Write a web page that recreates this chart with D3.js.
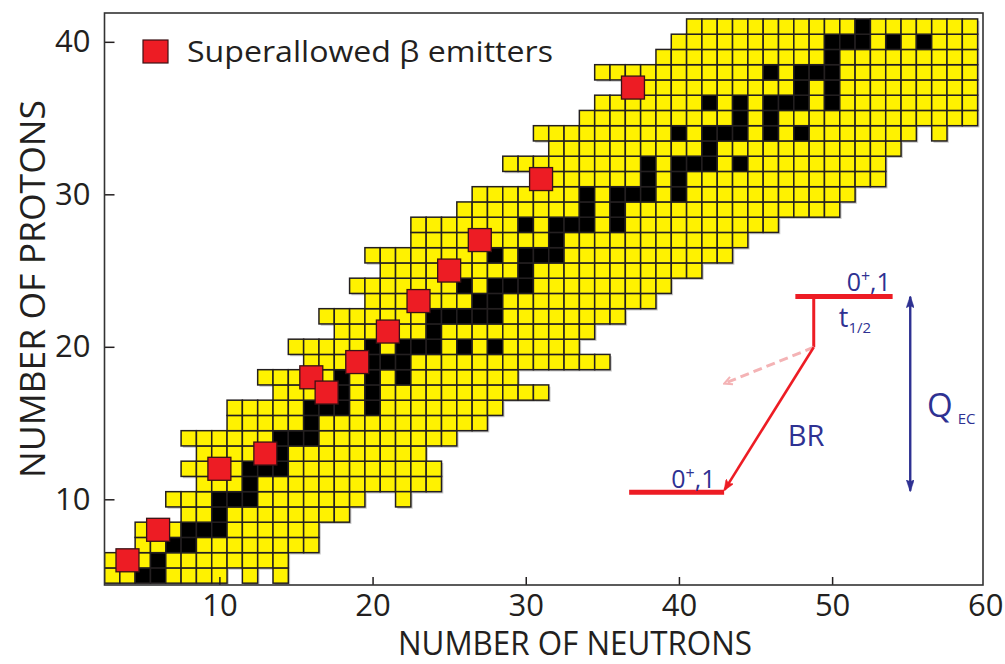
<!DOCTYPE html>
<html>
<head>
<meta charset="utf-8">
<script src="https://cdn.jsdelivr.net/npm/d3@7"></script>
<style>
body { margin: 0; background: #fff; }
svg { display: block; font-family: "Open Sans", sans-serif; }
</style>
</head>
<body>
<svg id="chart"></svg>
<script>
// one row of the chart per proton number
const protons = [5, 6, 7, 8, 9, 10, 11, 12, 13, 14, 15, 16, 17, 18, 19, 20, 21, 22, 23, 24, 25,
                 26, 27, 28, 29, 30, 31, 32, 33, 34, 35, 36, 37, 38, 39, 40, 41];
// first and last neutron number of each row
const nFirst = [3, 3, 5, 5, 8, 7, 9, 8, 9, 8, 11, 11, 14, 13, 16, 15, 18, 17, 20, 19, 21,
                20, 23, 23, 26, 27, 31, 29, 32, 31, 34, 35, 37, 35, 39, 40, 41];
const nLast = [14, 14, 16, 16, 18, 19, 24, 24, 23, 25, 27, 28, 31, 29, 35, 33, 34, 36, 38, 39, 41,
               43, 44, 46, 50, 51, 53, 53, 54, 55, 59, 59, 59, 59, 59, 59, 59];
// [N, Z] gaps inside a row, and lone cells past its end
const holes = [[11, 5], [13, 5]];
const loners = [[22, 10], [57, 34]];
// stable nuclei (black), neutron numbers per row
const stable = [[5, 6], [6], [7, 8], [8, 9, 10], [10], [10, 11, 12], [12], [12, 13, 14], [14],
  [14, 15, 16], [16], [16, 17, 18, 20], [18, 20], [18, 20, 22], [20, 21, 22], [20, 22, 23, 24, 26, 28],
  [24], [24, 25, 26, 27, 28], [27, 28], [26, 28, 29, 30], [30], [28, 30, 31, 32], [32],
  [30, 32, 33, 34, 36], [34, 36], [34, 36, 37, 38, 40], [38, 40], [38, 40, 41, 42, 44], [42],
  [40, 42, 43, 44, 46, 48], [44, 46], [42, 44, 46, 47, 48, 50], [48, 50], [46, 48, 49, 50], [50],
  [50, 51, 52, 54, 56], [52]];
// superallowed emitters [N, Z]
const superallowed = [[4, 6], [6, 8], [10, 12], [13, 13], [16, 18], [17, 17], [19, 19],
                      [21, 21], [23, 23], [25, 25], [27, 27], [31, 31], [37, 37]];
const xTicks = [10, 20, 30, 40, 50, 60];
const yTicks = [10, 20, 30, 40];
const legendLabel = "Superallowed \u03b2 emitters";

const width = 1005, height = 664;
const box = {left: 104.5, right: 983, top: 13, bottom: 585};
const yellow = "#fff200", red = "#ed1c24", blue = "#2e3192", ink = "#231f20";

const svg = d3.select("#chart").attr("width", width).attr("height", height);
svg.append("rect").attr("width", width).attr("height", height).attr("fill", "#fff");

const x = d3.scaleLinear().domain([2.5, 59.85]).range([box.left, box.right]);
const y = d3.scaleLinear().domain([4.38, 41.89]).range([box.bottom, box.top]);

// expand the rows into cells
let cells = [];
protons.forEach((z, i) => {
  for (let n = nFirst[i]; n <= nLast[i]; n++) {
    if (holes.some(h => h[0] === n && h[1] === z)) continue;
    cells.push({n: n, z: z, stable: stable[i].includes(n)});
  }
});
loners.forEach(d => cells.push({n: d[0], z: d[1], stable: false}));

svg.append("clipPath").attr("id", "plotclip")
  .append("rect")
  .attr("x", box.left).attr("y", box.top)
  .attr("width", box.right - box.left).attr("height", box.bottom - box.top);

const plot = svg.append("g").attr("clip-path", "url(#plotclip)");

function cellX(d) { return x(d.n - 0.5); }
function cellY(d) { return y(d.z + 0.5); }
const cw = x(1) - x(0), ch = y(0) - y(1);

// soft drop shadow under the cells
plot.append("g").selectAll("rect")
  .data(cells)
  .enter()
  .append("rect")
  .attr("x", d => cellX(d) + 1.8)
  .attr("y", d => cellY(d) + 1.8)
  .attr("width", cw)
  .attr("height", ch)
  .attr("fill", "#9a9a9a")
  .attr("opacity", 0.55);

plot.append("g").selectAll("rect")
  .data(cells)
  .enter()
  .append("rect")
  .attr("x", cellX)
  .attr("y", cellY)
  .attr("width", cw)
  .attr("height", ch)
  .attr("fill", d => d.stable ? "#000" : yellow)
  .attr("stroke", ink)
  .attr("stroke-width", 1.5);

// superallowed emitters, drawn larger than a cell
const rs = cw * 1.5;
plot.append("g").selectAll("rect")
  .data(superallowed)
  .enter()
  .append("rect")
  .attr("x", d => x(d[0]) - rs / 2)
  .attr("y", d => y(d[1]) - rs / 2)
  .attr("width", rs)
  .attr("height", rs)
  .attr("fill", red)
  .attr("stroke", "#3b1214")
  .attr("stroke-width", 1.3);

// axes
const xAxis = d3.axisBottom(x).tickValues(xTicks).tickSizeInner(-8).tickSizeOuter(0).tickPadding(9);
const yAxis = d3.axisLeft(y).tickValues(yTicks).tickSizeInner(-10).tickSizeOuter(0).tickPadding(14);

const gx = svg.append("g").attr("transform", "translate(0," + box.bottom + ")").call(xAxis);
const gy = svg.append("g").attr("transform", "translate(" + box.left + ",0)").call(yAxis);
[gx, gy].forEach(g => {
  g.select(".domain").remove();
  g.selectAll(".tick line").attr("stroke", ink).attr("stroke-width", 1.5);
  g.selectAll(".tick text").attr("fill", ink).style("font-size", "31px")
    .style("font-family", "'Open Sans', sans-serif");
});
gx.selectAll(".tick line").filter(d => x(d) > box.right - 1).remove();

svg.append("rect")
  .attr("x", box.left).attr("y", box.top)
  .attr("width", box.right - box.left).attr("height", box.bottom - box.top)
  .attr("fill", "none").attr("stroke", "#333").attr("stroke-width", 1.6);

// titles keep their letter height and are squeezed to the reference width
svg.append("text")
  .attr("x", 575).attr("y", 655)
  .attr("text-anchor", "middle").attr("fill", ink)
  .attr("textLength", 354).attr("lengthAdjust", "spacingAndGlyphs")
  .style("font-size", "32px")
  .text("NUMBER OF NEUTRONS");

svg.append("text")
  .attr("transform", "translate(45,289) rotate(-90)")
  .attr("text-anchor", "middle").attr("fill", ink)
  .attr("textLength", 378).attr("lengthAdjust", "spacingAndGlyphs")
  .style("font-size", "34px")
  .text("NUMBER OF PROTONS");

// legend
svg.append("rect")
  .attr("x", 143).attr("y", 40).attr("width", 25).attr("height", 23)
  .attr("fill", red).attr("stroke", "#3b1214").attr("stroke-width", 1.2);
svg.append("text")
  .attr("x", 187).attr("y", 62).attr("fill", ink)
  .attr("textLength", 366).attr("lengthAdjust", "spacingAndGlyphs")
  .style("font-size", "29px")
  .text(legendLabel);

// decay scheme inset, placed in chart units
const scheme = {
  top: {n0: 47.6, n1: 53.95, z: 23.3},
  bottom: {n0: 36.75, n1: 42.95, z: 10.47},
  branch: [48.8, 19.97],
  tip: [42.98, 10.62],
  dashTip: [42.98, 17.6],
  qN: 55.1, qTop: 23.28, qBottom: 10.56
};

const defs = svg.append("defs");
function marker(id, color, path, w, h, rx, ry, filled) {
  defs.append("marker").attr("id", id)
    .attr("viewBox", "0 0 " + w + " " + h)
    .attr("markerWidth", w).attr("markerHeight", h)
    .attr("refX", rx).attr("refY", ry)
    .attr("orient", "auto-start-reverse")
    .attr("markerUnits", "userSpaceOnUse")
    .append("path").attr("d", path)
    .attr("fill", filled ? color : "none")
    .attr("stroke", color).attr("stroke-width", filled ? 0.5 : 2);
}
marker("arRed", red, "M0,0 L11,4.5 L0,9 L2.5,4.5 Z", 11, 9, 10, 4.5, true);
marker("arPink", "#f4b3b5", "M1,1 L9,5 L1,9", 10, 10, 8.5, 5, false);
marker("arBlue", blue, "M0,0 L12,4 L0,8 L2,4 Z", 12, 8, 11, 4, true);

const ins = svg.append("g");
ins.append("line")
  .attr("x1", x(scheme.top.n0)).attr("x2", x(scheme.top.n1))
  .attr("y1", y(scheme.top.z)).attr("y2", y(scheme.top.z))
  .attr("stroke", red).attr("stroke-width", 5);
ins.append("line")
  .attr("x1", x(scheme.bottom.n0)).attr("x2", x(scheme.bottom.n1))
  .attr("y1", y(scheme.bottom.z)).attr("y2", y(scheme.bottom.z))
  .attr("stroke", red).attr("stroke-width", 5);
ins.append("line")
  .attr("x1", x(scheme.branch[0])).attr("x2", x(scheme.branch[0]))
  .attr("y1", y(scheme.top.z)).attr("y2", y(scheme.branch[1]))
  .attr("stroke", red).attr("stroke-width", 3);
ins.append("line")
  .attr("x1", x(scheme.branch[0])).attr("y1", y(scheme.branch[1]))
  .attr("x2", x(scheme.dashTip[0])).attr("y2", y(scheme.dashTip[1]))
  .attr("stroke", "#f4b3b5").attr("stroke-width", 3)
  .attr("stroke-dasharray", "9,5")
  .attr("marker-end", "url(#arPink)");
ins.append("line")
  .attr("x1", x(scheme.branch[0])).attr("y1", y(scheme.branch[1]))
  .attr("x2", x(scheme.tip[0])).attr("y2", y(scheme.tip[1]))
  .attr("stroke", red).attr("stroke-width", 2.6)
  .attr("marker-end", "url(#arRed)");
ins.append("line")
  .attr("x1", x(scheme.qN)).attr("x2", x(scheme.qN))
  .attr("y1", y(scheme.qTop)).attr("y2", y(scheme.qBottom))
  .attr("stroke", blue).attr("stroke-width", 2.4)
  .attr("marker-start", "url(#arBlue)")
  .attr("marker-end", "url(#arBlue)");

function spin(n, z) {
  const t = ins.append("text").attr("x", x(n)).attr("y", y(z))
    .attr("fill", blue).style("font-size", "25px");
  t.append("tspan").text("0");
  t.append("tspan").attr("dy", -9).style("font-size", "16px").text("+");
  t.append("tspan").attr("dy", 9).text(",1");
}
spin(50.95, 23.68);
spin(39.5, 10.72);

const th = ins.append("text").attr("x", x(50.44)).attr("y", y(21.28))
  .attr("fill", blue).style("font-size", "27px");
th.append("tspan").text("t");
th.append("tspan").attr("dy", 6).style("font-size", "15px").text("1/2");

ins.append("text").attr("x", x(47.11)).attr("y", y(13.5))
  .attr("fill", blue).style("font-size", "29px").text("BR");

const q = ins.append("text").attr("x", x(56.2)).attr("y", y(15.42))
  .attr("fill", blue).style("font-size", "33px");
q.append("tspan").text("Q");
q.append("tspan").attr("dx", 5).attr("dy", 7).style("font-size", "15px").text("EC");
</script>
</body>
</html>
